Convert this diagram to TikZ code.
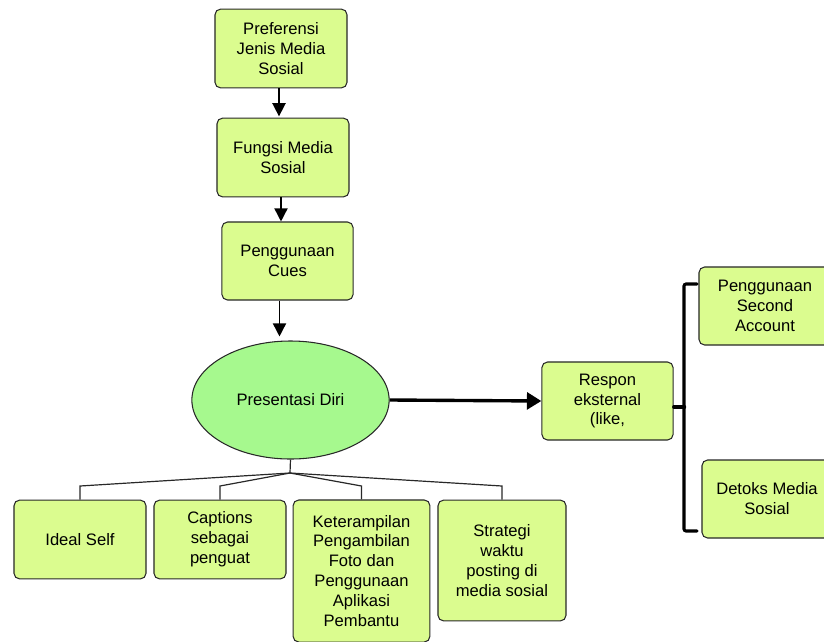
\documentclass[tikz,border=0pt]{standalone}
\usepackage{fontspec}
\setmainfont{Liberation Sans}
\usetikzlibrary{arrows.meta,shapes.geometric}
\definecolor{hijaukotak}{RGB}{219,252,143}
\definecolor{hijauelips}{RGB}{166,249,142}
\definecolor{garis}{RGB}{40,40,40}

\begin{document}
\begin{tikzpicture}[x=0.025cm,y=-0.025cm,font=\fontsize{11.8}{14.2}\selectfont,
  kotak/.style={draw=garis,line width=0.75pt,fill=hijaukotak,rounded corners=4pt,
    align=center,inner sep=0pt,minimum width=3.3cm,minimum height=1.97cm},
  panah/.style={line width=1.1pt,-{Triangle[length=0.33cm,width=0.33cm]}},
  cabang/.style={garis,line width=0.85pt},
  kurung/.style={line width=2.2pt,line cap=round,rounded corners=1.5pt}]
\path[use as bounding box] (0,0) rectangle (824,641);

\node[kotak] (preferensi) at (281,48.5) {Preferensi\\Jenis Media\\Sosial};
\node[kotak] (fungsi) at (283,157.5) {Fungsi Media\\Sosial};
\node[kotak,minimum width=3.28cm,minimum height=1.95cm] (cues) at (287.5,261) {Penggunaan\\Cues};
\node[ellipse,draw=garis,line width=0.75pt,fill=hijauelips,minimum width=4.93cm,
  minimum height=2.95cm,inner sep=0pt] (diri) at (290.5,400) {Presentasi Diri};

\node[kotak,minimum width=3.28cm,minimum height=1.95cm] (respon) at (607.5,401) {Respon\\eksternal\\(like,};
\node[kotak,minimum height=1.95cm] (second) at (765,306) {Penggunaan\\Second\\Account};
\node[kotak,minimum width=3.25cm,minimum height=1.95cm] (detoks) at (767,499) {Detoks Media\\Sosial};

\node[kotak] (ideal) at (80,539.5) {Ideal Self};
\node[kotak] (caption) at (220,539.5) {Captions\\sebagai\\penguat};
\node[kotak,minimum width=3.42cm,minimum height=3.55cm] (terampil) at (361.5,571)
  {Keterampilan\\Pengambilan\\Foto dan\\Penggunaan\\Aplikasi\\Pembantu};
\node[kotak,minimum width=3.2cm,minimum height=3.02cm] (strategi) at (502,560.5)
  {Strategi\\waktu\\posting di\\media sosial};

\draw[panah,shorten >=0.03cm] ([xshift=-0.05cm]preferensi.south) -- ([xshift=-0.05cm]preferensi.south |- fungsi.north);
\draw[panah] ([xshift=-0.05cm]fungsi.south) -- ([xshift=-0.05cm]fungsi.south |- cues.north);
\draw[panah,shorten >=0.1cm] ([xshift=-0.2cm]cues.south) -- ([xshift=-0.2cm]cues.south |- diri.north);
\draw[line width=2.4pt,-{Triangle[length=0.36cm,width=0.42cm]}] (diri.east) -- (respon.west);

\coordinate (simpul) at (290,473);
\draw[cabang] (diri.south) -- (simpul);
\foreach \anak in {ideal,caption,terampil,strategi}
  \draw[cabang] (simpul) -- (\anak.north |- 0,486) -- (\anak.north);

\coordinate (kurungAtas) at (697,284);
\coordinate (kurungBawah) at (697,531);
\draw[kurung] (kurungAtas) -- ++(-13,0) |- (kurungBawah);
\draw[kurung] ([yshift=-0.15cm]respon.east) -- ++(11,0);
\end{tikzpicture}
\end{document}
